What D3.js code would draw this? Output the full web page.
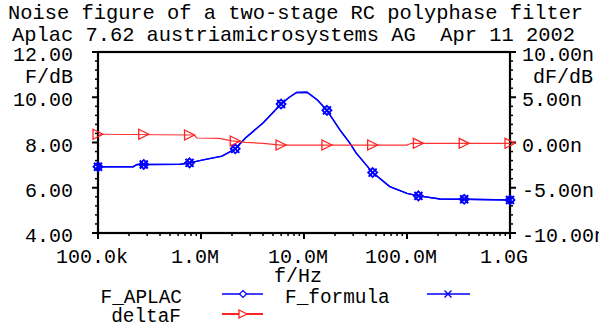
<!DOCTYPE html>
<html lang="en">
<head>
  <meta charset="UTF-8">
  <title>Noise figure</title>
  <script src="https://d3js.org/d3.v7.min.js"></script>
  <style>
    body { margin: 0; background: white; }
    text { font-family: "Liberation Mono", "Courier New", monospace; fill: #000; }
  </style>
</head>
<body>
  <div id="chart"></div>
  <script>
    const width = 599, height = 331;

    // F (dB) curve, dense points
    const freq = [1e5, 2.2e5, 2.4e5, 2.78e5, 6.3e5, 7.74e5, 1.05e6, 1.6e6, 2.15e6, 2.7e6, 4e6,
                  5.99e6, 7.2e6, 8.5e6, 1.07e7, 1.35e7, 1.67e7, 2.24e7, 2.8e7, 3.2e7, 4.64e7,
                  6.8e7, 1e8, 1.29e8, 2.1e8, 3.59e8, 1e9];
    const fAplac = [6.93, 6.93, 7.03, 7.03, 7.04, 7.10, 7.23, 7.40, 7.72, 8.20, 8.86,
                    9.70, 10.00, 10.21, 10.22, 9.88, 9.42, 8.55, 7.96, 7.54, 6.67,
                    6.05, 5.75, 5.64, 5.50, 5.49, 5.46];
    const fFormula = fAplac.slice();

    // deltaF (n) curve
    const dFreq = [1e5, 7.74e5, 8.6e5, 9.1e5, 1.5e6, 2.0e6, 2.7e6, 4e6, 5.99e6, 1e8, 1.1e8, 1e9];
    const deltaF = [0.91, 0.83, 0.83, 0.50, 0.45, 0.17, 0.02, -0.10, -0.28, -0.28, -0.09, -0.09];

    // marker positions
    const markFreq = [1e5, 2.78e5, 7.74e5, 2.15e6, 5.99e6, 1.67e7, 4.64e7, 1.29e8, 3.59e8, 1e9];
    const markF = [6.93, 7.03, 7.10, 7.72, 9.70, 9.42, 6.67, 5.64, 5.49, 5.46];
    const markDelta = [0.91, 0.91, 0.83, 0.17, -0.28, -0.28, -0.28, -0.09, -0.09, -0.09];

    // axis ticks
    const xTicks = [1e5, 1e6, 1e7, 1e8, 1e9];
    const xTickLabels = ["100.0k", "1.0M", "10.0M", "100.0M", "1.0G"];
    const yLeftTicks = [4, 6, 8, 10, 12];
    const yRightTicks = [-10, -5, 0, 5, 10];

    const svg = d3.select("#chart").append("svg")
      .attr("width", width).attr("height", height);

    const x = d3.scaleLog().domain([1e5, 1e9]).range([98, 510]);
    const yL = d3.scaleLinear().domain([4, 12]).range([233, 52]);
    const yR = d3.scaleLinear().domain([-10, 10]).range([233, 52]);

    // titles
    svg.append("text").attr("x", 8).attr("y", 19).attr("font-size", "20.4px")
      .text("Noise figure of a two-stage RC polyphase filter");
    svg.append("text").attr("x", 12).attr("y", 41).attr("font-size", "20.4px")
      .attr("xml:space", "preserve")
      .text("Aplac 7.62 austriamicrosystems AG  Apr 11 2002");

    // minor ticks
    const minorX = [];
    for (let d = 1e5; d < 1e9; d *= 10)
      for (let k = 2; k <= 9; k++) minorX.push(d * k);
    const minorL = d3.range(4, 12.01, 0.4).filter(v => !yLeftTicks.includes(Math.round(v * 10) / 10));
    const minorR = d3.range(-10, 10.01, 1).filter(v => !yRightTicks.includes(Math.round(v)));

    const ax = svg.append("g").attr("stroke", "#000");
    ax.selectAll(".mx").data(minorX).join("line")
      .attr("x1", d => x(d)).attr("x2", d => x(d)).attr("y1", 233).attr("y2", 236).attr("stroke-width", 1.5);
    ax.selectAll(".Mx").data(xTicks).join("line")
      .attr("x1", d => x(d)).attr("x2", d => x(d)).attr("y1", 233).attr("y2", 239).attr("stroke-width", 2);
    ax.selectAll(".ml").data(minorL).join("line")
      .attr("x1", 95).attr("x2", 98).attr("y1", d => yL(d)).attr("y2", d => yL(d)).attr("stroke-width", 1.5);
    ax.selectAll(".Ml").data(yLeftTicks).join("line")
      .attr("x1", 92).attr("x2", 98).attr("y1", d => yL(d)).attr("y2", d => yL(d)).attr("stroke-width", 2);
    ax.selectAll(".mr").data(minorR).join("line")
      .attr("x1", 510).attr("x2", 513).attr("y1", d => yR(d)).attr("y2", d => yR(d)).attr("stroke-width", 1.5);
    ax.selectAll(".Mr").data(yRightTicks).join("line")
      .attr("x1", 510).attr("x2", 516).attr("y1", d => yR(d)).attr("y2", d => yR(d)).attr("stroke-width", 2);

    // frame
    svg.append("rect").attr("x", 98).attr("y", 52).attr("width", 412).attr("height", 181)
      .attr("fill", "none").attr("stroke", "#000").attr("stroke-width", 2.2);

    // tick labels
    svg.selectAll(".xl").data(xTicks).join("text")
      .attr("x", d => x(d) - 6).attr("y", 263).attr("text-anchor", "middle").attr("font-size", "20px")
      .text((d, i) => xTickLabels[i]);
    svg.selectAll(".ll").data(yLeftTicks).join("text")
      .attr("x", 73).attr("y", d => yL(d)).attr("dy", "0.45em").attr("text-anchor", "end").attr("font-size", "20px")
      .text(d => d3.format(".2f")(d));
    svg.selectAll(".rl").data(yRightTicks).join("text")
      .attr("x", 522).attr("y", d => yR(d)).attr("dy", "0.45em").attr("font-size", "20px")
      .text(d => d3.format(".2f")(d).replace("\u2212", "-") + "n");

    svg.append("text").attr("x", 73).attr("y", 83).attr("text-anchor", "end").attr("font-size", "20px").text("F/dB");
    svg.append("text").attr("x", 533).attr("y", 83).attr("font-size", "20px").text("dF/dB");
    svg.append("text").attr("x", 298).attr("y", 282).attr("text-anchor", "middle").attr("font-size", "20px").text("f/Hz");

    // curves
    const lineF = d3.line().x((d, i) => x(freq[i])).y(d => yL(d));
    const lineD = d3.line().x((d, i) => x(dFreq[i])).y(d => yR(d));

    svg.append("path").attr("d", lineF(fAplac)).attr("fill", "none").attr("stroke", "#00f").attr("stroke-width", 1.4);
    svg.append("path").attr("d", lineF(fFormula)).attr("fill", "none").attr("stroke", "#00f").attr("stroke-width", 1.4);
    svg.append("path").attr("d", lineD(deltaF)).attr("fill", "none").attr("stroke", "#f33").attr("stroke-width", 1.2);

    const diamond = (cx, cy, s) => `M${cx},${cy - s}L${cx + s},${cy}L${cx},${cy + s}L${cx - s},${cy}Z`;
    const cross = (cx, cy, s) => `M${cx - s},${cy - s}L${cx + s},${cy + s}M${cx - s},${cy + s}L${cx + s},${cy - s}`;
    const tri = (cx, cy, s) => `M${cx - s},${cy - s}L${cx + s},${cy}L${cx - s},${cy + s}Z`;

    svg.selectAll(".md").data(markF).join("path")
      .attr("d", (d, i) => diamond(x(markFreq[i]), yL(d), 4.5))
      .attr("fill", "none").attr("stroke", "#00f").attr("stroke-width", 1.8);
    svg.selectAll(".mx2").data(markF).join("path")
      .attr("d", (d, i) => cross(x(markFreq[i]), yL(d), 4))
      .attr("fill", "none").attr("stroke", "#00f").attr("stroke-width", 2);
    svg.selectAll(".mt").data(markDelta).join("path")
      .attr("d", (d, i) => tri(x(markFreq[i]), yR(d), 5))
      .attr("fill", "none").attr("stroke", "#f22").attr("stroke-width", 1.3);

    // legend
    svg.append("text").attr("x", 182).attr("y", 303).attr("text-anchor", "end").attr("font-size", "19.4px").text("F_APLAC");
    svg.append("text").attr("x", 285).attr("y", 303).attr("font-size", "19.4px").text("F_formula");
    svg.append("text").attr("x", 181).attr("y", 322).attr("text-anchor", "end").attr("font-size", "19.4px").text("deltaF");

    const lg = svg.append("g").attr("fill", "none");
    lg.append("line").attr("x1", 222).attr("x2", 263).attr("y1", 294).attr("y2", 294).attr("stroke", "#00f").attr("stroke-width", 1.4);
    lg.append("path").attr("d", diamond(243, 294, 3.5)).attr("fill", "#fff").attr("stroke", "#00f").attr("stroke-width", 1.2);
    lg.append("line").attr("x1", 427).attr("x2", 470).attr("y1", 294).attr("y2", 294).attr("stroke", "#00f").attr("stroke-width", 1.4);
    lg.append("path").attr("d", cross(448, 294, 3.5)).attr("stroke", "#00f").attr("stroke-width", 1.4);
    lg.append("line").attr("x1", 222).attr("x2", 263).attr("y1", 314).attr("y2", 314).attr("stroke", "#f22").attr("stroke-width", 2);
    lg.append("path").attr("d", tri(243, 314, 4)).attr("fill", "#fff").attr("stroke", "#f22").attr("stroke-width", 1.3);
  </script>
</body>
</html>
